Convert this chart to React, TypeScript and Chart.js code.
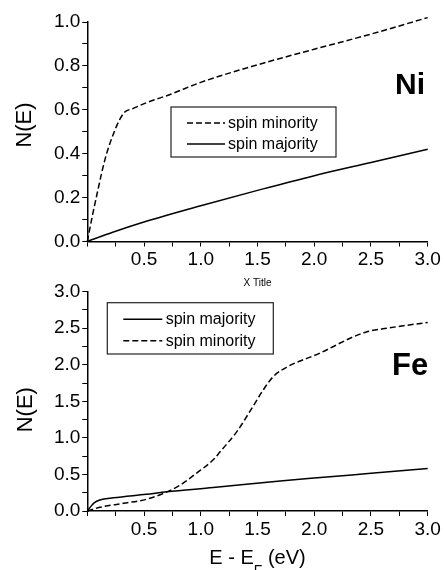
import React, { useEffect, useRef } from "react";
import { Chart, registerables } from "chart.js";

Chart.register(...registerables);

const FONT = '"Liberation Sans", Arial, Helvetica, sans-serif';

// ---------- Data ----------
const niMinorityE = [0, 0.05, 0.1, 0.13, 0.17, 0.23, 0.28, 0.33, 0.4, 0.52, 0.73, 1.0, 1.5, 2.0, 2.5, 3.0];
const niMinorityN = [0, 0.13, 0.25, 0.32, 0.4, 0.49, 0.55, 0.59, 0.605, 0.632, 0.67, 0.725, 0.805, 0.876, 0.945, 1.02];
const niMajorityE = [0, 0.23, 0.52, 1.0, 1.5, 2.0, 2.5, 3.0];
const niMajorityN = [0, 0.043, 0.092, 0.163, 0.233, 0.3, 0.36, 0.42];

const feMajorityE = [0, 0.03, 0.06, 0.11, 0.23, 0.52, 0.7, 1.11, 1.7, 2.0, 2.5, 3.0];
const feMajorityN = [0, 0.06, 0.11, 0.15, 0.18, 0.228, 0.262, 0.32, 0.41, 0.45, 0.515, 0.58];
const feMinorityE = [0, 0.11, 0.32, 0.52, 0.67, 0.82, 0.96, 1.11, 1.17, 1.32, 1.46, 1.55, 1.64, 1.76, 2.05, 2.34, 2.46, 2.64, 3.0];
const feMinorityN = [0, 0.05, 0.105, 0.16, 0.24, 0.356, 0.515, 0.7, 0.81, 1.09, 1.43, 1.655, 1.84, 1.97, 2.16, 2.38, 2.45, 2.5, 2.58];

const seriesLabels = ["spin minority", "spin majority"];
const elementLabels = ["Ni", "Fe"];
const yTitle = "N(E)";
const topXTitle = "X Title";
const bottomXTitleParts = ["E - E", "F", " (eV)"];

const xRange = [0, 3];
const niYRange = [0, 1];
const feYRange = [0, 3];

function pts(xs: number[], ys: number[]) {
  return xs.map((x, i) => ({ x, y: ys[i] }));
}

const DASH = [6, 3];

function isMultiple(v: number, step: number) {
  const r = v / step;
  return Math.abs(r - Math.round(r)) < 1e-6;
}

function makeDecor(cfg: any) {
  return {
    id: "panelDecor",
    afterDraw(chart: any) {
      const ctx = chart.ctx as CanvasRenderingContext2D;
      ctx.save();
      // legend box
      const L = cfg.legend;
      ctx.setLineDash([]);
      ctx.strokeStyle = "#222";
      ctx.lineWidth = 1.2;
      ctx.strokeRect(L.x, L.y, L.w, L.h);
      L.order.forEach((di: number, k: number) => {
        const ds = chart.data.datasets[di];
        const y = L.rowY[k];
        ctx.beginPath();
        ctx.setLineDash(ds.borderDash || []);
        ctx.lineWidth = 1.4;
        ctx.strokeStyle = "#000";
        ctx.moveTo(L.lineX0, y);
        ctx.lineTo(L.lineX1, y);
        ctx.stroke();
        ctx.setLineDash([]);
        ctx.fillStyle = "#000";
        ctx.font = `16px ${FONT}`;
        ctx.textAlign = "left";
        ctx.textBaseline = "middle";
        ctx.fillText(ds.label, L.textX, y + 0.5);
      });

      // element label
      ctx.fillStyle = "#000";
      ctx.font = `bold ${cfg.elem.size}px ${FONT}`;
      ctx.textAlign = "left";
      ctx.textBaseline = "alphabetic";
      ctx.fillText(cfg.elem.text, cfg.elem.x, cfg.elem.y);

      // y title (rotated)
      ctx.save();
      ctx.translate(cfg.yTitle.x, cfg.yTitle.y);
      ctx.rotate(-Math.PI / 2);
      ctx.font = `22px ${FONT}`;
      ctx.textAlign = "center";
      ctx.textBaseline = "alphabetic";
      ctx.fillText(yTitle, 0, 0);
      ctx.restore();

      // x title
      const cx = (chart.chartArea.left + chart.chartArea.right) / 2;
      if (cfg.xTitle.kind === "small") {
        ctx.font = `10px ${FONT}`;
        ctx.textAlign = "center";
        ctx.textBaseline = "middle";
        ctx.fillText(topXTitle, cx, cfg.xTitle.y);
      } else {
        const big = `20px ${FONT}`;
        const small = `14px ${FONT}`;
        ctx.textAlign = "left";
        ctx.textBaseline = "alphabetic";
        ctx.font = big;
        const w0 = ctx.measureText(bottomXTitleParts[0]).width;
        const w2 = ctx.measureText(bottomXTitleParts[2]).width;
        ctx.font = small;
        const w1 = ctx.measureText(bottomXTitleParts[1]).width;
        let x = cx - (w0 + w1 + w2) / 2;
        const by = cfg.xTitle.y;
        ctx.font = big;
        ctx.fillText(bottomXTitleParts[0], x, by);
        x += w0;
        ctx.font = small;
        ctx.fillText(bottomXTitleParts[1], x, by + 11);
        x += w1;
        ctx.font = big;
        ctx.fillText(bottomXTitleParts[2], x, by);
      }
      ctx.restore();
    },
  };
}

function axisCommon() {
  return {
    grid: {
      display: true,
      drawOnChartArea: false,
      drawTicks: true,
      tickLength: 5,
      tickColor: "#000",
      tickWidth: 1,
    },
    border: { display: true, color: "#000", width: 1.5 },
  };
}

function buildConfig(kind: "ni" | "fe"): any {
  const isNi = kind === "ni";
  const canvasH = isNi ? 290 : 300;
  const areaTop = isNi ? 22 : 21.7;
  const areaBottom = isNi ? 241.5 : 241;
  const datasets = isNi
    ? [
        { label: seriesLabels[0], data: pts(niMinorityE, niMinorityN), borderDash: DASH },
        { label: seriesLabels[1], data: pts(niMajorityE, niMajorityN), borderDash: [] },
      ]
    : [
        { label: seriesLabels[1], data: pts(feMajorityE, feMajorityN), borderDash: [] },
        { label: seriesLabels[0], data: pts(feMinorityE, feMinorityN), borderDash: DASH },
      ];
  const ds = datasets.map((d) => ({
    ...d,
    borderColor: "#000",
    backgroundColor: "#000",
    borderWidth: 1.5,
    pointRadius: 0,
    fill: false,
    clip: false,
    cubicInterpolationMode: "monotone",
  }));
  const yStep = isNi ? 0.1 : 0.25;
  const yMajor = isNi ? 0.2 : 0.5;
  const yRange = isNi ? niYRange : feYRange;

  const decor = makeDecor(
    isNi
      ? {
          legend: { x: 171, y: 107, w: 165, h: 50, order: [0, 1], rowY: [123, 144], lineX0: 187, lineX1: 225, textX: 228 },
          elem: { text: elementLabels[0], x: 395, y: 94, size: 30 },
          yTitle: { x: 30.5, y: 125 },
          xTitle: { kind: "small", y: 283 },
        }
      : {
          legend: { x: 107.3, y: 32.7, w: 166, h: 51.3, order: [0, 1], rowY: [49.3, 70.7], lineX0: 123.3, lineX1: 162.3, textX: 165.7 },
          elem: { text: elementLabels[1], x: 392, y: 105, size: 31 },
          yTitle: { x: 31.5, y: 139.7 },
          xTitle: { kind: "big", y: 294 },
        }
  );

  return {
    type: "line",
    data: { datasets: ds },
    options: {
      responsive: false,
      animation: false,
      devicePixelRatio: 1,
      layout: { padding: { left: 0, right: 445 - 427.7, top: areaTop, bottom: 0 } },
      plugins: { legend: { display: false }, tooltip: { enabled: false } },
      scales: {
        x: {
          type: "linear",
          min: xRange[0],
          max: xRange[1],
          ...axisCommon(),
          ticks: {
            stepSize: 0.25,
            autoSkip: false,
            maxRotation: 0,
            minRotation: 0,
            padding: 2,
            color: "#000",
            font: { family: FONT, size: 19 },
            callback: (v: number) => (v > 0 && isMultiple(v, 0.5) ? v.toFixed(1) : ""),
          },
          afterFit: (scale: any) => {
            scale.height = canvasH - areaBottom;
          },
        },
        y: {
          type: "linear",
          min: yRange[0],
          max: yRange[1],
          ...axisCommon(),
          ticks: {
            stepSize: yStep,
            autoSkip: false,
            padding: 2,
            color: "#000",
            font: { family: FONT, size: 19 },
            callback: (v: number) => (isMultiple(v, yMajor) ? v.toFixed(1) : ""),
          },
          afterFit: (scale: any) => {
            scale.width = 87.3;
          },
        },
      },
    },
    plugins: [decor],
  };
}

function Panel({ kind, top, height }: { kind: "ni" | "fe"; top: number; height: number }) {
  const ref = useRef<HTMLCanvasElement | null>(null);
  useEffect(() => {
    if (!ref.current) return;
    const chart = new Chart(ref.current, buildConfig(kind));
    return () => chart.destroy();
  }, [kind]);
  return (
    <canvas
      ref={ref}
      width={445}
      height={height}
      style={{ position: "absolute", left: 0, top, width: 445, height, display: "block" }}
    />
  );
}

export default function App() {
  return (
    <div style={{ position: "absolute", left: 0, top: 0, width: 445, height: 570, background: "#fff", overflow: "hidden" }}>
      <Panel kind="ni" top={0} height={290} />
      <Panel kind="fe" top={270} height={300} />
    </div>
  );
}
